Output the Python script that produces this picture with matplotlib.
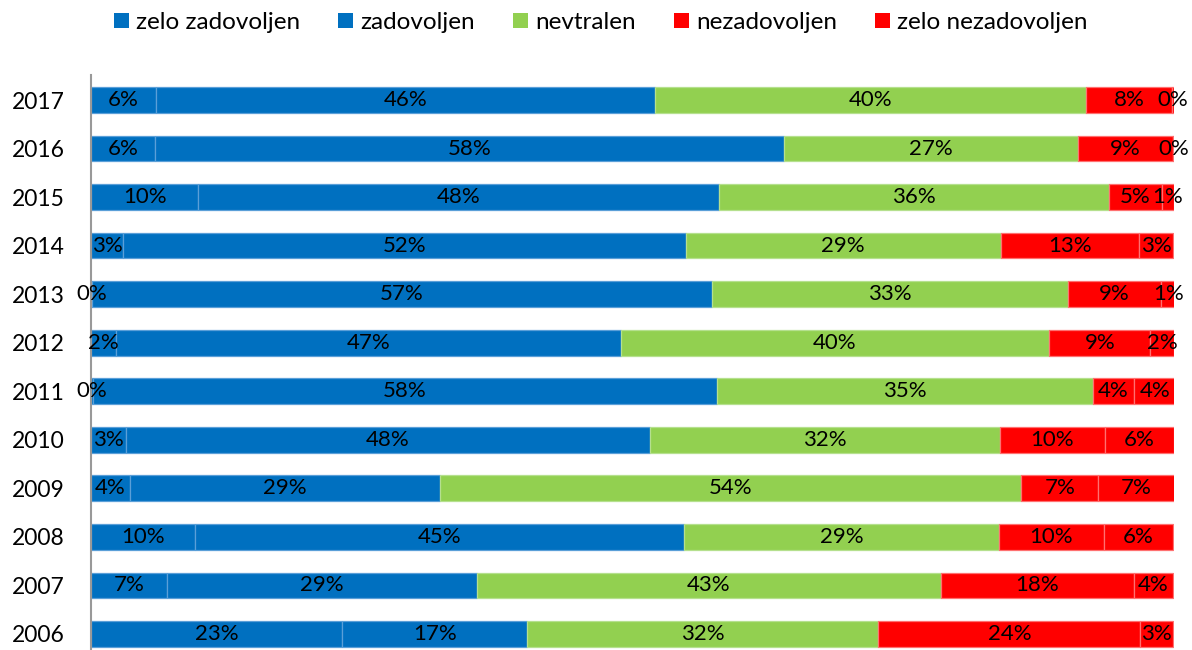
import matplotlib
matplotlib.use("Agg")
import matplotlib.pyplot as plt
from matplotlib.patches import Patch
import numpy as np

plt.rcParams['font.family'] = ['Lato', 'DejaVu Sans']

years = ["2006", "2007", "2008", "2009", "2010", "2011", "2012", "2013", "2014", "2015", "2016", "2017"]
categories = ["zelo zadovoljen", "zadovoljen", "nevtralen", "nezadovoljen", "zelo nezadovoljen"]

zelo_zadovoljen   = [23.2, 7.0, 9.6, 3.6, 3.2, 0.2, 2.3, 0.1, 3.0, 9.9, 5.9, 6.0]
zadovoljen        = [17.1, 28.6, 45.2, 28.6, 48.4, 57.6, 46.6, 57.2, 51.9, 48.1, 58.1, 46.1]
nevtralen         = [32.4, 42.9, 29.0, 53.7, 32.3, 34.7, 39.6, 32.9, 29.1, 36.0, 27.1, 39.8]
nezadovoljen      = [24.2, 17.8, 9.7, 7.1, 9.7, 3.8, 9.3, 8.6, 12.8, 4.9, 8.8, 7.9]
zelo_nezadovoljen = [3.0, 3.6, 6.4, 7.1, 6.4, 3.9, 2.2, 1.4, 3.1, 1.1, 0.1, 0.2]

series = [zelo_zadovoljen, zadovoljen, nevtralen, nezadovoljen, zelo_nezadovoljen]
colors = ["#0070C0", "#0070C0", "#92D050", "#FF0000", "#FF0000"]
edges = ["#5A9FD8", "#5A9FD8", "#B5E08E", "#FF7070", "#FF7070"]

fig = plt.figure(figsize=(11.92, 6.50), dpi=100)
ax = fig.add_axes([91/1192, 0.0, (1174-91)/1192, 1 - 75/650])

y = np.arange(len(years))
left = np.zeros(len(years))
for vals, c, ec in zip(series, colors, edges):
    vals = np.array(vals)
    ax.barh(y, vals, left=left, height=0.53, color=c, edgecolor=ec, linewidth=0.9)
    for yi, l, v in zip(y, left, vals):
        ax.text(l + v / 2, yi, f"{int(v + 0.5):d}%", ha="center", va="center",
                fontsize=16, color="black")
    left += vals

ax.set_xlim(0, 100)
ax.set_ylim(-0.33, 11.515)
ax.set_yticks(y)
ax.set_yticklabels(years, fontsize=16.5)
ax.tick_params(axis="y", length=0, pad=19)
ax.set_xticks([])
for s in ["top", "right", "bottom"]:
    ax.spines[s].set_visible(False)
ax.spines["left"].set_color("#999999")
ax.spines["left"].set_linewidth(1.5)

handles = [Patch(facecolor=c, edgecolor="none") for c in colors]
fig.legend(handles, categories, loc="upper center", bbox_to_anchor=(0.504, 1.015),
           ncol=5, frameon=False, fontsize=17.5, handlelength=0.62, handleheight=0.62,
           handletextpad=0.29, columnspacing=1.56)

fig.savefig("out.png", dpi=100)
